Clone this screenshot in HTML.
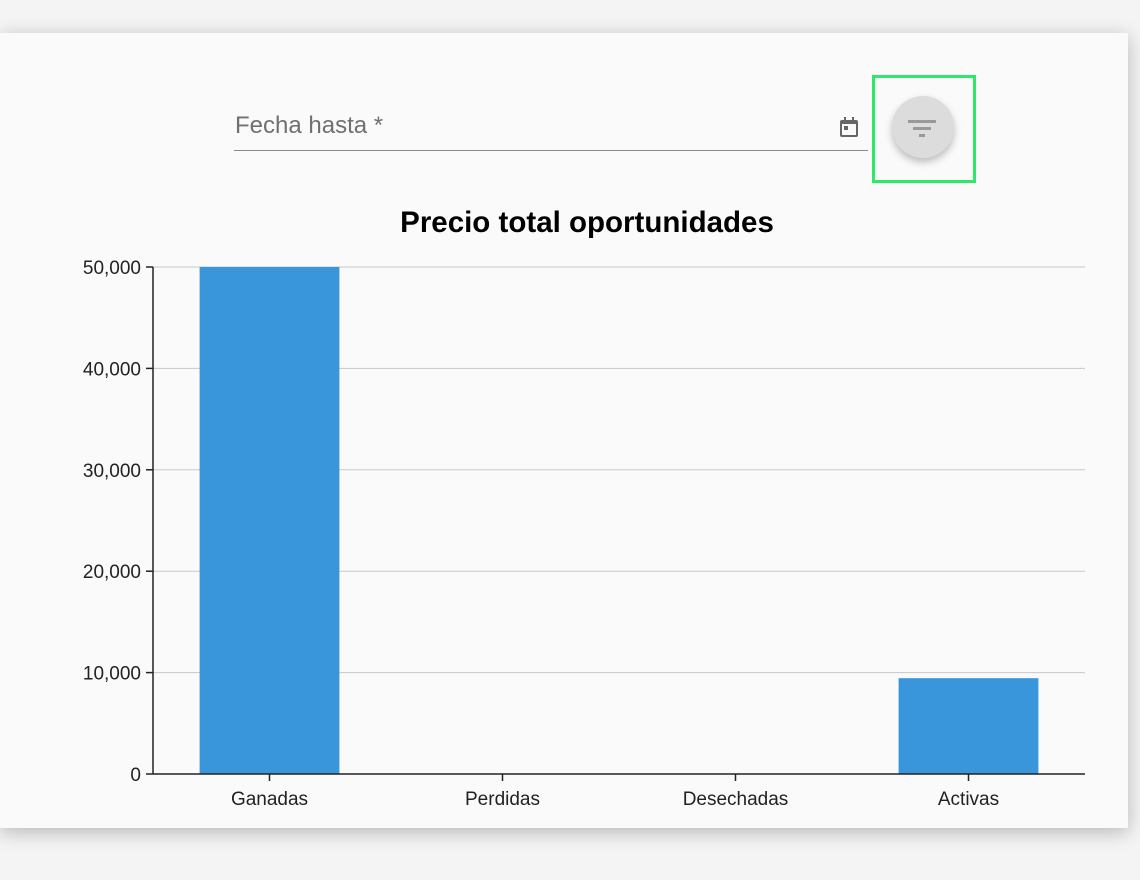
<!DOCTYPE html>
<html><head><meta charset="utf-8"><style>
body{margin:0;width:1140px;height:880px;background:#f4f4f4;font-family:"Liberation Sans",sans-serif;position:relative;overflow:hidden}
#card{position:absolute;left:0;top:33px;width:1128px;height:795px;background:#fafafa;box-shadow:0 4px 18px rgba(0,0,0,0.25)}
#field-label{position:absolute;left:235px;top:112px;font-size:24px;color:#707070}
#field-line{position:absolute;left:234px;top:150px;width:634px;height:1px;background:#8a8a8a}
#cal{position:absolute;left:839px;top:117px;width:20px;height:21px}
#hl{position:absolute;left:872px;top:75px;width:98px;height:102px;border:3px solid #2ee86a}
#fab{position:absolute;left:892px;top:96px;width:62px;height:62px;border-radius:50%;background:#dcdcdc;box-shadow:0 4px 8px rgba(0,0,0,0.25)}
svg{position:absolute;left:0;top:0}
</style></head><body>
<div id="card"></div>
<div id="field-label">Fecha hasta *</div>
<div id="field-line"></div>
<svg id="cal" viewBox="0 0 20 21"><rect x="1" y="3" width="18" height="17" rx="2" fill="#666"/><rect x="3" y="7" width="14" height="11" fill="#fafafa"/><rect x="5" y="0" width="2" height="4" fill="#666"/><rect x="13" y="0" width="2" height="4" fill="#666"/><rect x="5" y="9" width="4" height="4" fill="#666"/></svg>
<div id="hl"></div>
<div id="fab"><svg width="62" height="62"><rect x="16" y="24" width="28" height="3" fill="#999"/><rect x="21" y="31" width="18" height="3" fill="#999"/><rect x="27" y="38" width="6" height="3" fill="#999"/></svg></div>
<svg id="chart" width="1140" height="880" style="pointer-events:none"></svg>
<script>
const categories=["Ganadas","Perdidas","Desechadas","Activas"];
const values=[50000,0,0,9450];
const ticks=[0,10000,20000,30000,40000,50000];
const tickLabels=["0","10,000","20,000","30,000","40,000","50,000"];
const svg=document.getElementById('chart');const NS="http://www.w3.org/2000/svg";
const x0=153,x1=1085,y0=774,y1=267,maxV=50000;
const y=v=>y0-(v/maxV)*(y0-y1);
const band=(x1-x0)/categories.length;
const xc=i=>x0+band*(i+0.5);
function mk(t,a){const e=document.createElementNS(NS,t);for(const k in a)e.setAttribute(k,a[k]);svg.appendChild(e);return e;}
const title=mk('text',{x:587,y:232,'text-anchor':'middle','font-size':29.5,'font-weight':'bold',fill:'#000'});title.textContent="Precio total oportunidades";


ticks.forEach((t,i)=>{
 if(t>0){const g=mk('line',{x1:x0,x2:x1,y1:y(t),y2:y(t),stroke:'#c8c8c8','stroke-width':1});
 
 }
 mk('line',{x1:x0-7,x2:x0,y1:y(t),y2:y(t),stroke:'#222','stroke-width':1.5});
 const l=mk('text',{x:x0-12,y:y(t)+7,'text-anchor':'end','font-size':19,fill:'#222'});l.textContent=tickLabels[i];
 
 
});
categories.forEach((c,i)=>{
 const w=band*0.6;
 const b=mk('rect',{x:xc(i)-w/2,y:y(values[i]),width:w,height:y0-y(values[i]),fill:'#3a96db'});
 
 
 mk('line',{x1:xc(i),x2:xc(i),y1:y0,y2:y0+7,stroke:'#222','stroke-width':1.5});
 const l=mk('text',{x:xc(i),y:y0+31,'text-anchor':'middle','font-size':19,fill:'#222'});l.textContent=c;
 
 
});
const ya=mk('line',{x1:x0,x2:x0,y1:y1,y2:y0,stroke:'#222','stroke-width':1.5});


const xa=mk('line',{x1:x0,x2:x1,y1:y0,y2:y0,stroke:'#222','stroke-width':1.5});


</script>
</body></html>
